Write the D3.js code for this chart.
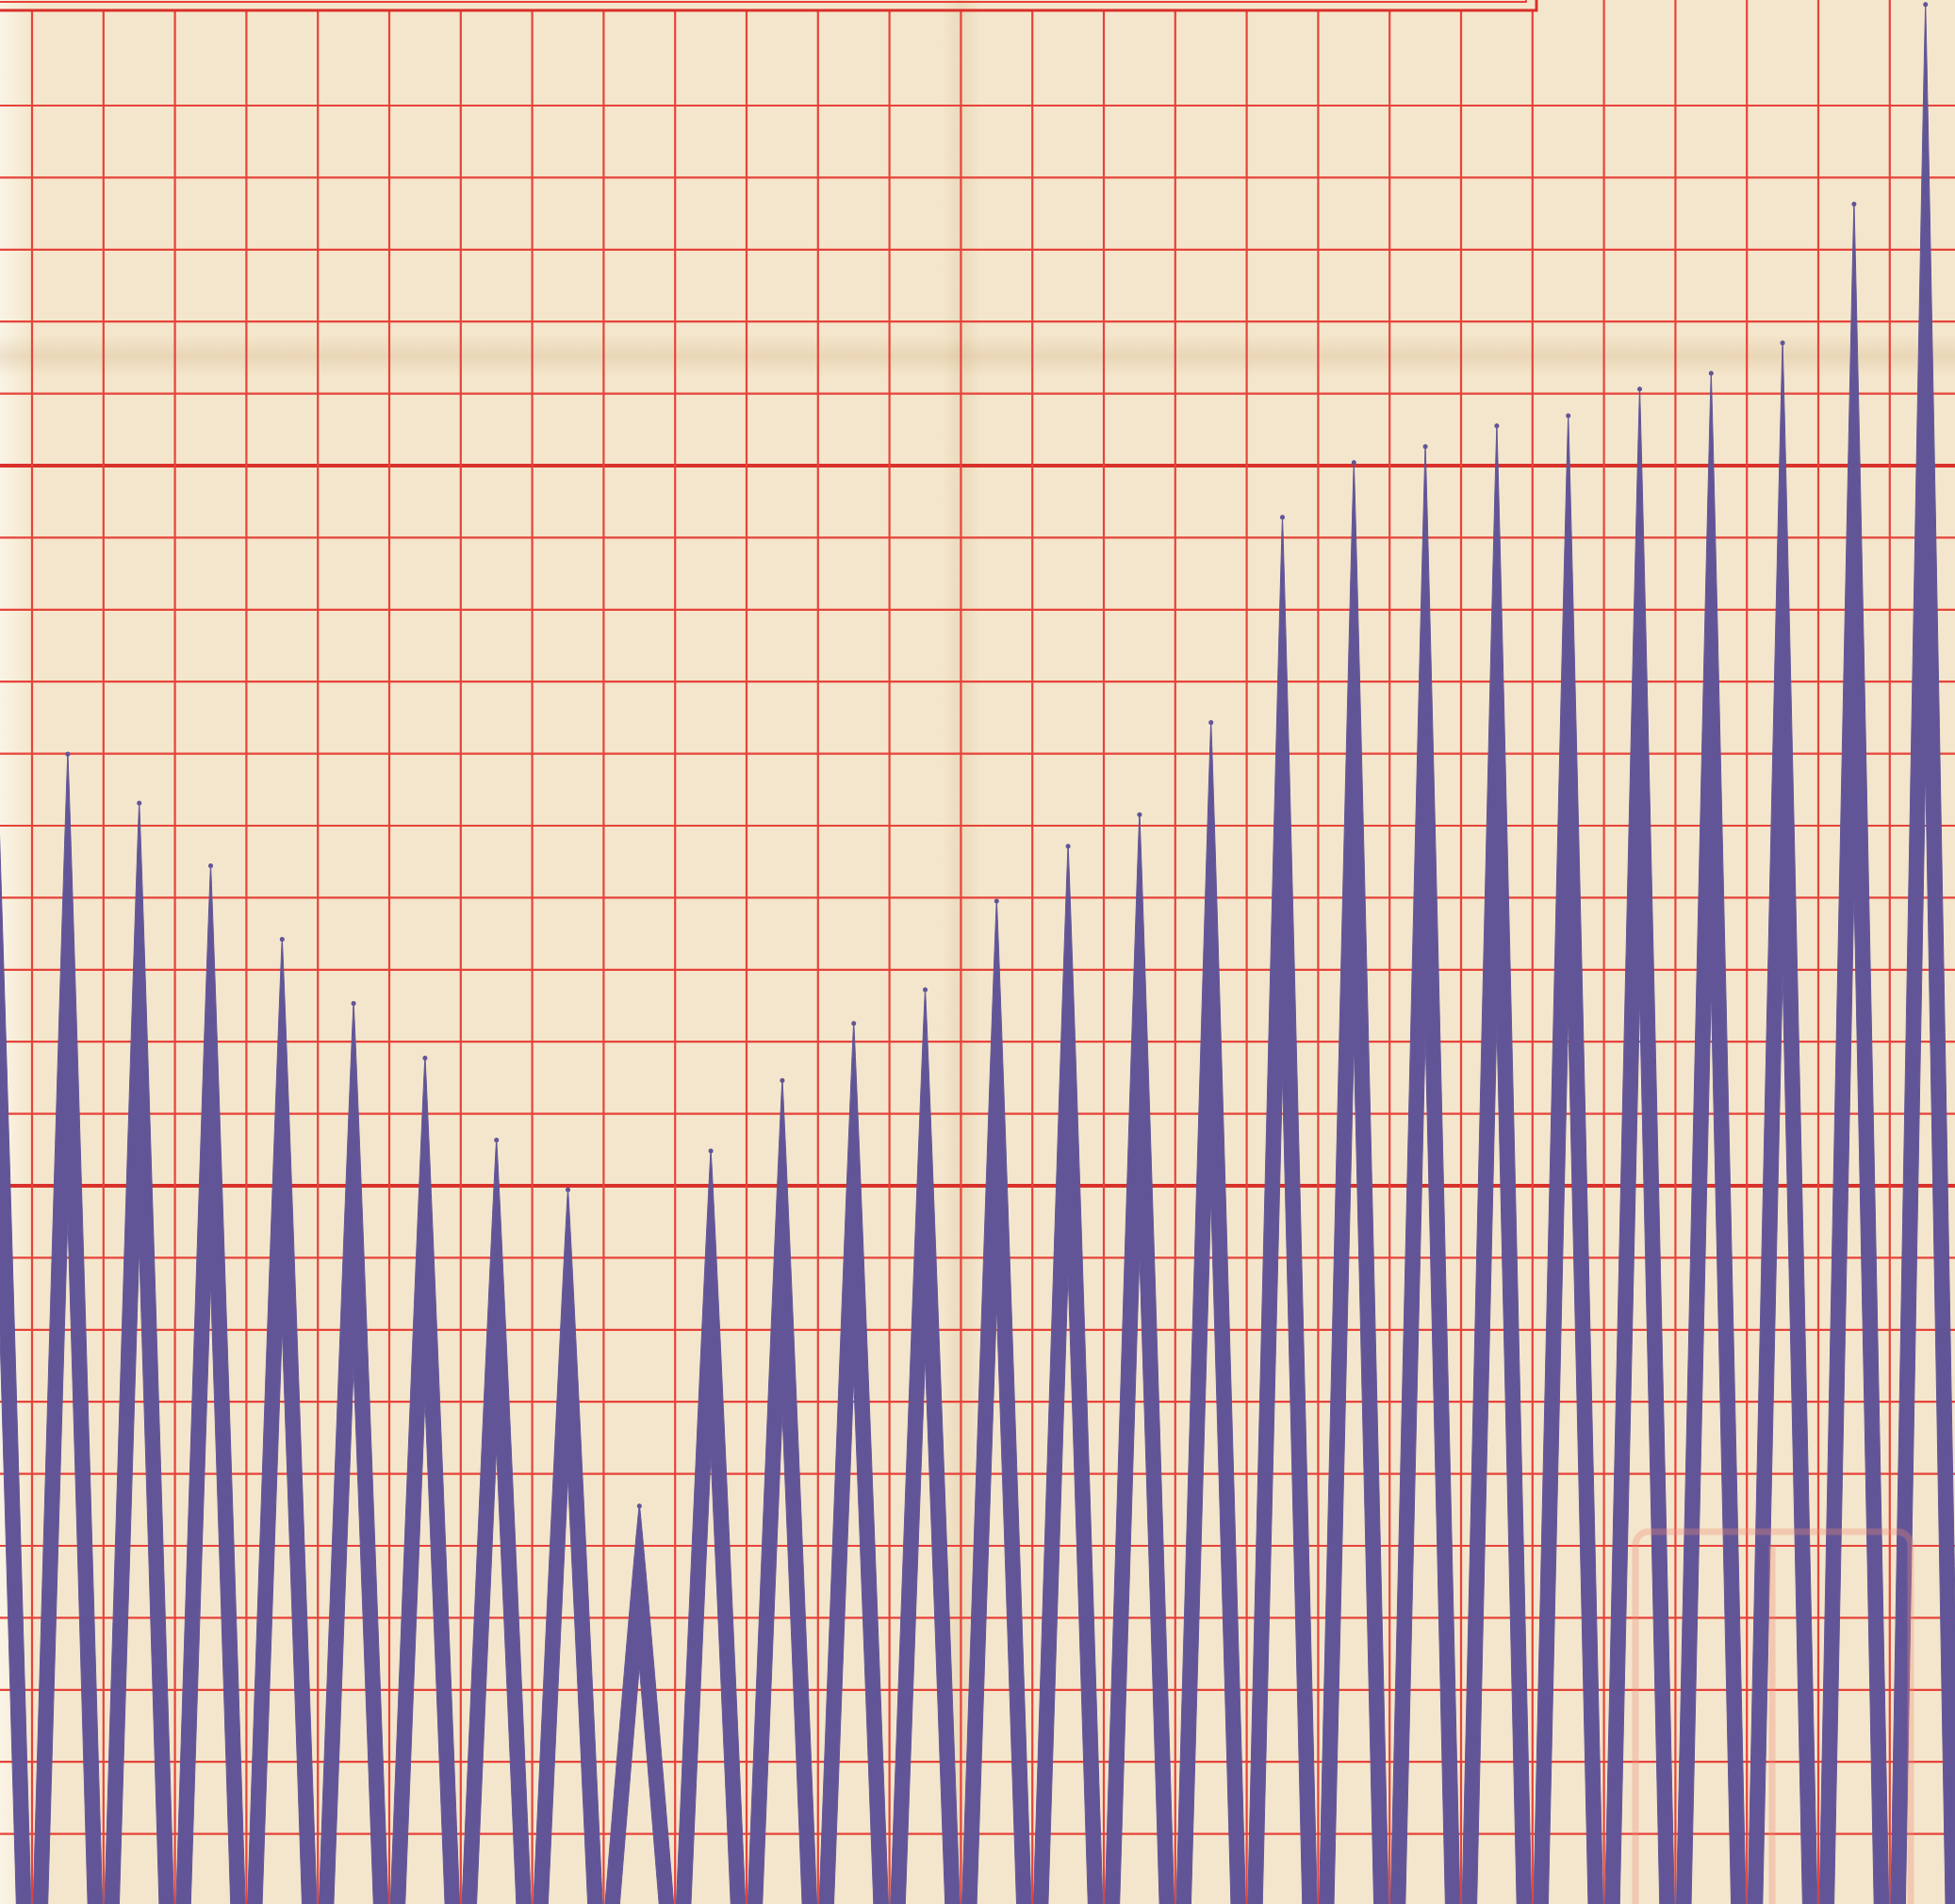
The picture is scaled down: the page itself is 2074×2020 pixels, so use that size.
<!DOCTYPE html>
<html>
<head>
<meta charset="utf-8">
<script src="https://cdn.jsdelivr.net/npm/d3@7"></script>
<style>
  html, body { margin: 0; padding: 0; background: #f4e6cc; }
  svg { display: block; }
</style>
</head>
<body>
<svg id="chart" width="2074" height="2020"></svg>
<script>
// ---- data ----
// one spike per grid column; column index 0 is partly off the left edge
const spikeIndex = [0, 1, 2, 3, 4, 5, 6, 7, 8, 9, 10, 11, 12, 13, 14, 15, 16, 17, 18, 19, 20, 21, 22, 23, 24, 25, 26, 27];
const spikeValues = [16.2, 16.02, 15.34, 14.47, 13.45, 12.56, 11.80, 10.66, 9.97, 5.58,
                     10.51, 11.49, 12.28, 12.75, 13.98, 14.74, 15.18, 16.46, 19.31, 20.07,
                     20.29, 20.58, 20.72, 21.09, 21.31, 21.73, 23.66, 26.43];
// grid: horizontal rules (units) and vertical rules (column boundaries)
const hRules = [0, 1, 2, 3, 4, 5, 6, 7, 8, 9, 10, 11, 12, 13, 14, 15, 16, 17, 18, 19, 20, 21, 22, 23, 24, 25];
const heavyRules = [10, 20];
const vRules = [0, 1, 2, 3, 4, 5, 6, 7, 8, 9, 10, 11, 12, 13, 14, 15, 16, 17, 18, 19, 20, 21, 22, 23, 24, 25, 26];

// ---- layout ----
const W = 2074, H = 2020;
const svg = d3.select("#chart");
const x = d3.scaleLinear().domain([0, 26]).range([34, 34 + 26 * 75.8]);
const y = d3.scaleLinear().domain([0, 25]).range([2022, 2022 - 25 * 76.4]);
const boxRight = 1630, boxBottom = 11;

const paper = "#f4e6cc", red = "#e6433a", redDark = "#d9312b", purple = "#625597";

const defs = svg.append("defs");
function band(id, vertical, color, op) {
  const g = defs.append("linearGradient").attr("id", id)
    .attr("x1", 0).attr("x2", vertical ? 1 : 0).attr("y1", 0).attr("y2", vertical ? 0 : 1);
  g.append("stop").attr("offset", 0).attr("stop-color", color).attr("stop-opacity", 0);
  g.append("stop").attr("offset", 0.5).attr("stop-color", color).attr("stop-opacity", op);
  g.append("stop").attr("offset", 1).attr("stop-color", color).attr("stop-opacity", 0);
}
band("foldV", true, "#c7a676", 0.2);
band("foldH", false, "#c29e6c", 0.22);
const gl = defs.append("linearGradient").attr("id", "edgeL").attr("x1", 0).attr("x2", 1).attr("y1", 0).attr("y2", 0);
gl.append("stop").attr("offset", 0).attr("stop-color", "#fbf6ea").attr("stop-opacity", 0.85);
gl.append("stop").attr("offset", 1).attr("stop-color", "#fbf6ea").attr("stop-opacity", 0);

// paper
svg.append("rect").attr("width", W).attr("height", H).attr("fill", paper);
svg.append("rect").attr("x", 0).attr("y", 0).attr("width", 34).attr("height", H).attr("fill", "url(#edgeL)");
svg.append("rect").attr("x", 0).attr("y", 355).attr("width", W).attr("height", 45).attr("fill", "url(#foldH)");
svg.append("rect").attr("x", 1000).attr("y", 0).attr("width", 40).attr("height", H).attr("fill", "url(#foldV)");

// grid
const grid = svg.append("g");
grid.selectAll("line.h").data(hRules).join("line")
  .attr("x1", 0).attr("x2", W)
  .attr("y1", d => y(d)).attr("y2", d => y(d))
  .attr("stroke", d => heavyRules.includes(d) ? redDark : red)
  .attr("stroke-width", d => heavyRules.includes(d) ? 4 : 2.2);
grid.selectAll("line.v").data(vRules).join("line")
  .attr("x1", d => x(d)).attr("x2", d => x(d))
  .attr("y1", d => x(d) < boxRight ? boxBottom : 0).attr("y2", H)
  .attr("stroke", red).attr("stroke-width", 2.2);

// title frame edge (box above the chart)
grid.append("path")
  .attr("d", `M0,${boxBottom} H${boxRight} V0`)
  .attr("fill", "none").attr("stroke", redDark).attr("stroke-width", 3);
grid.append("path")
  .attr("d", `M0,2 H${boxRight - 11} V0`)
  .attr("fill", "none").attr("stroke", red).attr("stroke-width", 1.8);

// spikes: a tapered zigzag pen stroke = outer spike minus inner notch
const half = (x(1) - x(0)) / 2 - 1;
const leg = 15.5;
const taper = 0.95;
const steps = 50;
const ts = d3.range(steps + 1).map(i => i / steps);
const spikes = spikeIndex.map((k, i) => ({ k, v: spikeValues[i] }));
const lineGen = d3.line();
function spikePath(d) {
  const xc = x(d.k - 0.5), yp = y(d.v), yb = y(0) + 4;
  const hw = t => half * Math.pow(t, taper);
  const yt = t => yp + t * (yb - yp);
  const outer = ts.map(t => [xc - hw(t), yt(t)]).reverse()
    .concat(ts.map(t => [xc + hw(t), yt(t)]));
  const tn = Math.pow(leg / half, 1 / taper);
  const tsIn = ts.map(u => tn + u * (1 - tn));
  const inner = tsIn.map(t => [xc - (hw(t) - leg), yt(t)]).reverse()
    .concat(tsIn.map(t => [xc + (hw(t) - leg), yt(t)]));
  return lineGen(outer) + "Z" + lineGen(inner) + "Z";
}
const sp = svg.append("g");
sp.selectAll("path").data(spikes).join("path")
  .attr("d", spikePath)
  .attr("fill", purple).attr("fill-rule", "evenodd")
  .attr("stroke", purple).attr("stroke-width", 1).attr("stroke-linejoin", "round");
sp.selectAll("circle").data(spikes).join("circle")
  .attr("cx", d => x(d.k - 0.5)).attr("cy", d => y(d.v) + 2)
  .attr("r", 2.5).attr("fill", purple);

// faint red library seal, bottom right
const seal = svg.append("g").attr("opacity", 0.32).attr("fill", "none").attr("stroke", "#ef8a78").attr("stroke-width", 7);
seal.append("rect").attr("x", 1735).attr("y", 1625).attr("width", 292).attr("height", 420).attr("rx", 14);
seal.append("line").attr("x1", 1880).attr("x2", 1880).attr("y1", 1640).attr("y2", 2030);
</script>
</body>
</html>
